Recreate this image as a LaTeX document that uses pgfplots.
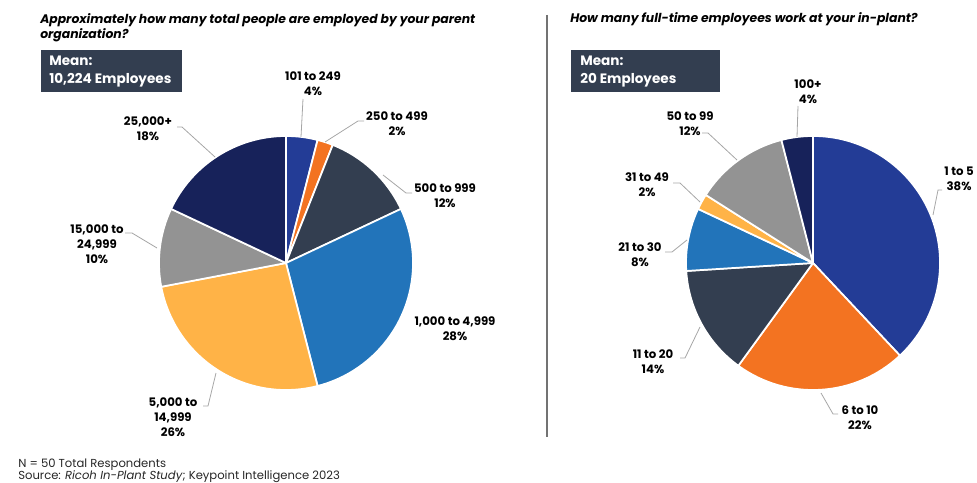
\documentclass[border=0pt]{standalone}
\usepackage{pgfplots}
\usepackage{pgfplotstable}
\pgfplotsset{compat=1.18}
\usepackage{fontspec}
\setmainfont{Poppins}
\definecolor{pie0}{HTML}{233C96}
\definecolor{pie1}{HTML}{F37321}
\definecolor{pie2}{HTML}{333E50}
\definecolor{pie3}{HTML}{2274BA}
\definecolor{pie4}{HTML}{FFB347}
\definecolor{pie5}{HTML}{939393}
\definecolor{pie6}{HTML}{17225A}
\definecolor{meanbox}{HTML}{333E50}
\definecolor{leader}{HTML}{A6A6A6}

% Share of respondents (%), slices clockwise from 12 o'clock
\pgfplotstableread{
label pct
101-249 4
250-499 2
500-999 12
1000-4999 28
5000-14999 26
15000-24999 10
25000+ 18
}\parentorg
\pgfplotstableread{
label pct
1-5 38
6-10 22
11-20 14
21-30 8
31-49 2
50-99 12
100+ 4
}\inplant

\newcommand{\drawpie}[3]{%
  \pgfplotstablegetrowsof{#1}%
  \pgfmathtruncatemacro\nrows{\pgfplotsretval-1}%
  \def\cum{0}%
  \pgfplotsforeachungrouped \i in {0,...,\nrows}{%
    \pgfplotstablegetelem{\i}{pct}\of{#1}%
    \pgfmathsetmacro\sa{90-3.6*\cum}%
    \pgfmathsetmacro\cum{\cum+\pgfplotsretval}%
    \pgfmathsetmacro\ea{90-3.6*\cum}%
    \edef\cmd{\noexpand\filldraw[fill=pie\i, draw=white, line width=1.3pt, line join=round]
      (axis cs:#2,#3) -- ++(\sa:95.25pt) arc[start angle=\sa, end angle=\ea, radius=95.25pt] -- cycle;}%
    \cmd
  }%
}

\begin{document}
\begin{tikzpicture}
\begin{axis}[x=0.75pt, y=0.75pt, xmin=0, xmax=977, ymin=0, ymax=482,
  y dir=reverse, hide axis, clip=false, scale only axis]
\path (axis cs:0,0) rectangle (axis cs:977,482);

\pgfplotsextra{\drawpie{\parentorg}{286}{263}}
\pgfplotsextra{\drawpie{\inplant}{813}{263}}

% divider
\draw[color=black!55, line width=0.8pt] (axis cs:547,15) -- (axis cs:547,437);

% titles
\node[anchor=base west, font=\fontsize{9.3}{11}\selectfont\bfseries\itshape, inner sep=0pt] at (axis cs:40,24) {Approximately how many total people are employed by your parent};
\node[anchor=base west, font=\fontsize{9.3}{11}\selectfont\bfseries\itshape, inner sep=0pt] at (axis cs:40,39) {organization?};
\node[anchor=base west, font=\fontsize{9.3}{11}\selectfont\bfseries\itshape, inner sep=0pt] at (axis cs:570,23) {How many full-time employees work at your in-plant?};

% mean boxes
\fill[meanbox] (axis cs:41,50) rectangle (axis cs:182,92);
\node[anchor=base west, text=white, font=\fontsize{10.2}{12}\selectfont\bfseries, inner sep=0pt] at (axis cs:49,66) {Mean:};
\node[anchor=base west, text=white, font=\fontsize{10.2}{12}\selectfont\bfseries, inner sep=0pt] at (axis cs:49,84) {10,224 Employees};
\fill[meanbox] (axis cs:571,50) rectangle (axis cs:720,92);
\node[anchor=base west, text=white, font=\fontsize{10.2}{12}\selectfont\bfseries, inner sep=0pt] at (axis cs:580,66) {Mean:};
\node[anchor=base west, text=white, font=\fontsize{10.2}{12}\selectfont\bfseries, inner sep=0pt] at (axis cs:580,84) {20 Employees};

% leader lines
\begin{scope}[color=leader, line width=0.6pt]
\draw (axis cs:301,137) -- (axis cs:303,99);
\draw (axis cs:325,142) -- (axis cs:358,121) -- (axis cs:364,121);
\draw (axis cs:383,175) -- (axis cs:406,193) -- (axis cs:412,193);
\draw (axis cs:216,373) -- (axis cs:208,406) -- (axis cs:203,406);
\draw (axis cs:157,248) -- (axis cs:132,233) -- (axis cs:125,233);
\draw (axis cs:215,157) -- (axis cs:182,127) -- (axis cs:177,127);
\draw (axis cs:797,137) -- (axis cs:798,106);
\draw (axis cs:737,160) -- (axis cs:708,133) -- (axis cs:702,133);
\draw (axis cs:700,202) -- (axis cs:680,183) -- (axis cs:673,183);
\draw (axis cs:687,240) -- (axis cs:672,252) -- (axis cs:665,252);
\draw (axis cs:933,215) -- (axis cs:938,190) -- (axis cs:942,190);
\draw (axis cs:821,393) -- (axis cs:833,414) -- (axis cs:838,414);
\draw (axis cs:700,327) -- (axis cs:685,358) -- (axis cs:680,358);
\end{scope}

% slice labels
\begin{scope}[every node/.style={align=center, inner sep=0pt, font=\fontsize{8.8}{11.2}\selectfont\bfseries}]
\node at (axis cs:313,84) {101 to 249\\4\%};
\node at (axis cs:397,124) {250 to 499\\2\%};
\node at (axis cs:445,196) {500 to 999\\12\%};
\node at (axis cs:455,329) {1,000 to 4,999\\28\%};
\node at (axis cs:173,417) {5,000 to\\14,999\\26\%};
\node at (axis cs:97,244) {15,000 to\\24,999\\10\%};
\node at (axis cs:148,129) {25,000+\\18\%};
\node at (axis cs:808,92) {100+\\4\%};
\node at (axis cs:690,124) {50 to 99\\12\%};
\node at (axis cs:647,185) {31 to 49\\2\%};
\node at (axis cs:640,255) {21 to 30\\8\%};
\node at (axis cs:959,179) {1 to 5\\38\%};
\node at (axis cs:860,418) {6 to 10\\22\%};
\node at (axis cs:653,362) {11 to 20\\14\%};
\end{scope}

% footer
\node[anchor=base west, inner sep=0pt, font=\fontsize{8.7}{10}\selectfont, text=black!85] at (axis cs:18,467) {N = 50 Total Respondents};
\node[anchor=base west, inner sep=0pt, font=\fontsize{8.7}{10}\selectfont, text=black!85] at (axis cs:18,479.5) {Source: \textit{Ricoh In-Plant Study}; Keypoint Intelligence 2023};
\end{axis}
\end{tikzpicture}
\end{document}
